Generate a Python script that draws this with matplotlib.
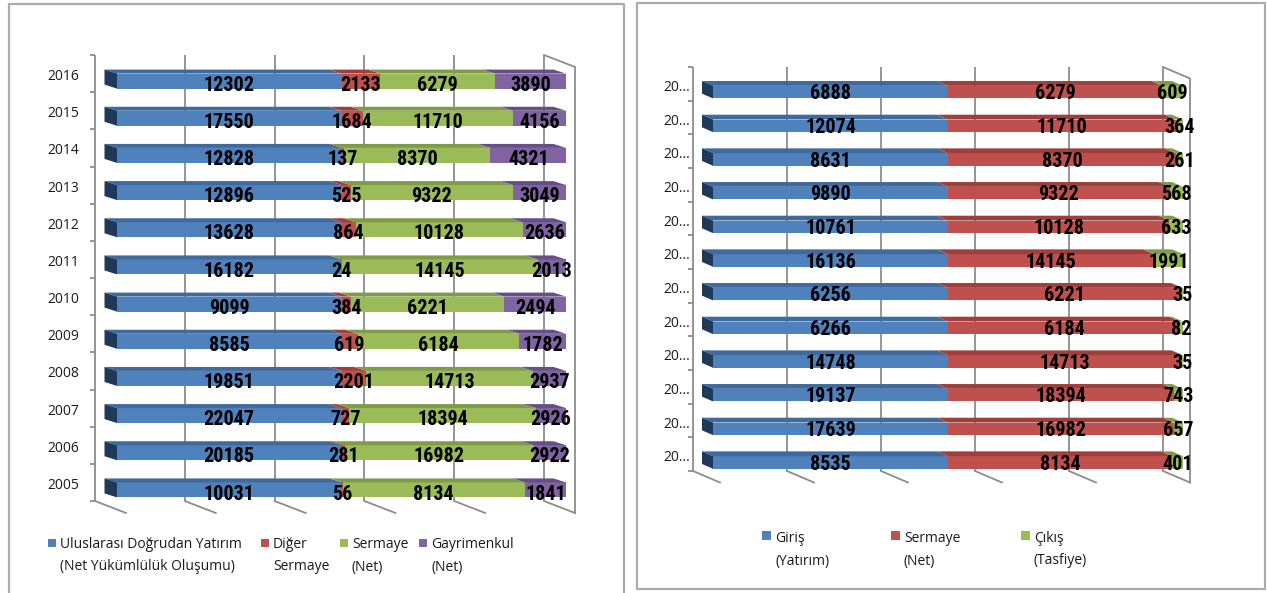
import matplotlib
matplotlib.use("Agg")
import matplotlib.pyplot as plt
from matplotlib.patches import Polygon, Rectangle
import numpy as np

# ---------------------------------------------------------------- data
years = [2005, 2006, 2007, 2008, 2009, 2010, 2011, 2012, 2013, 2014, 2015, 2016]

# Left panel: composition of foreign direct investment liabilities
fdi_liabilities = [10031, 20185, 22047, 19851, 8585, 9099, 16182, 13628, 12896, 12828, 17550, 12302]
other_capital = [56, 281, 727, 2201, 619, 384, 24, 864, 525, 137, 1684, 2133]
equity_net = [8134, 16982, 18394, 14713, 6184, 6221, 14145, 10128, 9322, 8370, 11710, 6279]
real_estate_net = [1841, 2922, 2926, 2937, 1782, 2494, 2013, 2636, 3049, 4321, 4156, 3890]
left_labels = ["Uluslarası Doğrudan Yatırım\n(Net Yükümlülük Oluşumu)",
               "Diğer\nSermaye", "Sermaye\n(Net)", "Gayrimenkul\n(Net)"]

# Right panel: equity inflow vs. liquidation
equity_inflow = [8535, 17639, 19137, 14748, 6266, 6256, 16136, 10761, 9890, 8631, 12074, 6888]
equity_capital = [8134, 16982, 18394, 14713, 6184, 6221, 14145, 10128, 9322, 8370, 11710, 6279]
equity_outflow = [401, 657, 743, 35, 82, 35, 1991, 633, 568, 261, 364, 609]
right_labels = ["Giriş\n(Yatırım)", "Sermaye\n(Net)", "Çıkış\n(Tasfiye)"]

BLUE, RED, GREEN, PURPLE = "#4F81BD", "#C0504D", "#9BBB59", "#8064A2"
TOPS = {BLUE: "#3F6A9E", RED: "#9F3E3B", GREEN: "#7E9C45", PURPLE: "#664F86"}
END_FACE = "#1F3959"
GRID = "#8C8C8C"
FRAME = "#ABABAB"
TEXT = "#1a1a1a"

W, H = 1267, 593
fig = plt.figure(figsize=(W / 100, H / 100), dpi=100)
fig.patch.set_facecolor("white")

VALUE_FONT = dict(family=["Roboto Condensed", "Liberation Sans Narrow", "Roboto", "DejaVu Sans"],
                  weight="bold", size=14.5)
LABEL_FONT = dict(family=["Open Sans", "DejaVu Sans"], size=10)


def draw_panel(box, wall, geom, series, colors, cat_labels):
    """box: panel rectangle in pixels (x0, y0, x1, y1, top-left origin).
    wall: back wall in pixels (x at 0 %, x at 100 %, y top, y bottom)."""
    n = len(series[0])
    bx0, bx1, wy0, wy1 = wall
    sx = bx1 - bx0                      # pixels per 100 %
    sy = (wy1 - wy0) / n                # pixels per category
    px, py = 1.0 / sx, 1.0 / sy

    ax = fig.add_axes([box[0] / W, 1 - box[3] / H, (box[2] - box[0]) / W, (box[3] - box[1]) / H])
    ax.set_xlim((box[0] - bx0) / sx, (box[2] - bx0) / sx)
    ax.set_ylim((wy1 - box[3]) / sy - 0.5, (wy1 - box[1]) / sy - 0.5)
    ax.axis("off")

    lo, hi = -0.5, n - 0.5
    ticks = np.linspace(0, 1, 6)
    wdx, wdy = geom["wall"][0] * px, geom["wall"][1] * py
    kw = dict(color=GRID, lw=1.3, zorder=1)

    # back wall gridlines, floor edges and right side wall
    ax.vlines(ticks, lo, hi, **kw)
    for t in ticks:
        ax.plot([t, t + wdx], [lo, lo - wdy], **kw)
    ax.plot([1, 1 + wdx, 1 + wdx], [hi, hi - wdy, lo - wdy], **kw)
    # category axis with boundary ticks
    ax.hlines(np.arange(n + 1) - 0.5, -5 * px, 0, **kw)

    rows = np.arange(n)
    for r, lab in zip(rows, cat_labels):
        ax.text(geom["label_x"] * px, r - geom["label_dy"] * py, lab,
                ha="right", va="baseline", color=TEXT, **LABEL_FONT)

    fdx, fdy = geom["front"][0] * px, geom["front"][1] * py
    kdx, kdy = geom["back"][0] * px, geom["back"][1] * py
    hh = geom["half_h"] * py

    vals = np.array(series, dtype=float)
    shares = vals / vals.sum(axis=0)
    left = np.zeros(n)
    for k, (sh, v, c) in enumerate(zip(shares, vals, colors)):
        yc = rows - fdy
        ax.barh(yc, sh, left=left + fdx, height=2 * hh, color=c, linewidth=0, zorder=3)
        for r in rows:
            x0, x1 = left[r], left[r] + sh[r]
            tf, tb = r - fdy + hh, r - kdy + hh
            ax.add_patch(Polygon([(x0 + fdx, tf), (x1 + fdx, tf), (x1 + kdx, tb), (x0 + kdx, tb)],
                                 closed=True, facecolor=TOPS[c], edgecolor="none", zorder=3))
            if k == 0:
                ax.add_patch(Polygon([(kdx, r - kdy - hh), (kdx, r - kdy + hh),
                                      (fdx, r - fdy + hh), (fdx, r - fdy - hh)],
                                     closed=True, facecolor=END_FACE, edgecolor="none", zorder=3))
            ax.text(left[r] + sh[r] / 2 + fdx, yc[r] - geom["text_dy"] * py, f"{int(v[r])}",
                    ha="center", va="baseline", color="black", zorder=6, **VALUE_FONT)
        left = left + sh
    return ax


# full-figure overlay for frames and legends (pixel coordinates)
over = fig.add_axes([0, 0, 1, 1], zorder=10)
over.set_xlim(0, W)
over.set_ylim(H, 0)
over.axis("off")
over.patch.set_alpha(0)

# left panel
draw_panel(box=(9, 4, 624, 593), wall=(95, 544, 55, 501),
           geom=dict(wall=(31, 12), front=(22, 7.5), back=(9.5, 3.5), half_h=7.5,
                     text_dy=9.6, label_x=-16, label_dy=6.5),
           series=[fdi_liabilities, other_capital, equity_net, real_estate_net],
           colors=[BLUE, RED, GREEN, PURPLE],
           cat_labels=[str(y) for y in years])

# right panel
draw_panel(box=(637, 3, 1265, 589), wall=(693, 1163, 67, 471),
           geom=dict(wall=(27, 11.5), front=(20, 8.3), back=(9, 3.5), half_h=6.3,
                     text_dy=7.2, label_x=-3, label_dy=7),
           series=[equity_inflow, equity_capital, equity_outflow],
           colors=[BLUE, RED, GREEN],
           cat_labels=[str(y)[:2] + "..." for y in years])

# panel frames
over.plot([9, 9, 624, 624], [593, 4, 4, 593], color=FRAME, lw=1.6)
over.add_patch(Rectangle((637, 3), 628, 586, facecolor="none", edgecolor=FRAME, lw=1.6))


def legend(items, colors, xs, y_sq, sq, y_last, gap):
    # y_last is the baseline of the second label line
    for (lab, c, x) in zip(items, colors, xs):
        over.add_patch(Rectangle((x, y_sq), sq, sq, facecolor=c, edgecolor="none"))
        over.text(x + sq + gap, y_last, lab, ha="left", va="baseline", color=TEXT,
                  linespacing=1.65, **LABEL_FONT)


legend(left_labels, [BLUE, RED, GREEN, PURPLE], [48, 261, 340, 419], 539, 8, 570.5, 4)
legend(right_labels, [BLUE, RED, GREEN], [762, 891, 1021], 531, 9, 564.5, 4)

fig.savefig("out.png", dpi=100, facecolor="white")
